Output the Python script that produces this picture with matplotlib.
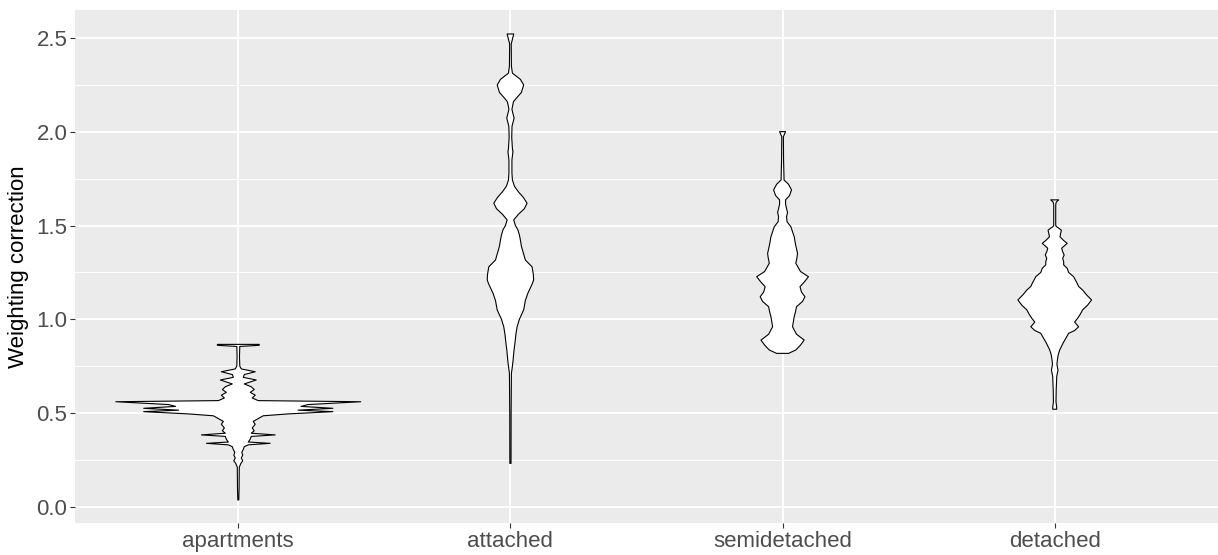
import matplotlib
matplotlib.use("Agg")
import matplotlib.pyplot as plt
import numpy as np

plt.rcParams['font.family'] = ['Liberation Sans', 'DejaVu Sans']

categories = ["apartments", "attached", "semidetached", "detached"]
y_ticks = [0.0, 0.5, 1.0, 1.5, 2.0, 2.5]
y_tick_labels = ["0.0", "0.5", "1.0", "1.5", "2.0", "2.5"]
y_label = "Weighting correction"

# violin profiles: value, relative density width
apartments_y = [0.036, 0.10, 0.21, 0.23, 0.245, 0.26, 0.275, 0.29, 0.305, 0.32, 0.330, 0.338, 0.345,
                0.36, 0.375, 0.383, 0.392, 0.405, 0.42, 0.44, 0.455, 0.47, 0.485, 0.495, 0.507, 0.515,
                0.525, 0.535, 0.545, 0.560, 0.566, 0.58, 0.595, 0.61, 0.625, 0.64, 0.655, 0.676, 0.69,
                0.705, 0.72, 0.735, 0.75, 0.80, 0.855, 0.861, 0.866]
apartments_d = [0.5, 0.8, 1.0, 2.5, 4.5, 3.0, 4.5, 3.5, 5, 6, 10, 32, 10,
                12, 13, 37, 13, 16, 14, 17, 15, 20, 25, 50, 95, 60,
                95, 63, 70, 123, 20, 14, 17, 12, 16, 13, 6, 18, 5,
                6, 17, 3, 1.5, 1.2, 1.5, 21, 21]

attached_y = [0.231, 0.50, 0.712, 0.75, 0.783, 0.83, 0.872, 0.92, 0.96, 1.00, 1.05, 1.10, 1.139, 1.19,
              1.21, 1.24, 1.28, 1.316, 1.353, 1.39, 1.423, 1.45, 1.477, 1.50, 1.530, 1.56, 1.59, 1.619,
              1.65, 1.68, 1.71, 1.743, 1.78, 1.85, 1.88, 1.894, 1.91, 1.97, 2.03, 2.073, 2.12, 2.16,
              2.18, 2.21, 2.25, 2.28, 2.313, 2.35, 2.47, 2.473, 2.522]
attached_d = [0.6, 0.7, 1.0, 2, 2.7, 3.5, 4.5, 5.5, 6.7, 9, 13.3, 15, 17.5, 22,
              23.3, 23, 21.7, 15, 13, 11, 10, 9, 7.5, 5, 3.3, 8, 14, 16.7,
              13, 8, 4, 2, 1.5, 1.5, 2.2, 2.5, 2, 1.3, 1.6, 3.7, 1.5, 3,
              6, 11, 13.3, 10, 2, 1, 0.8, 1, 3.3]

semidetached_y = [0.818, 0.836, 0.862, 0.889, 0.92, 0.96, 1.014, 1.04, 1.067, 1.095, 1.12, 1.145, 1.174,
                  1.20, 1.227, 1.255, 1.299, 1.33, 1.352, 1.40, 1.44, 1.494, 1.52, 1.548, 1.57, 1.59,
                  1.615, 1.637, 1.66, 1.69, 1.72, 1.743, 1.85, 1.974, 2.001]
semidetached_d = [6, 13.3, 18, 21.7, 14, 10, 11.7, 13, 14, 20, 22.5, 19, 17.5,
                  22, 26, 18, 13.3, 14.5, 15, 13, 11.7, 8.3, 4.5, 4, 5, 4,
                  3, 3, 7, 9, 6, 1.5, 1, 0.8, 3]

detached_y = [0.520, 0.53, 0.56, 0.623, 0.66, 0.694, 0.729, 0.76, 0.783, 0.81, 0.836, 0.872, 0.925,
              0.94, 0.96, 0.985, 1.005, 1.03, 1.05, 1.075, 1.103, 1.13, 1.156, 1.175, 1.192, 1.227,
              1.25, 1.272, 1.29, 1.307, 1.325, 1.343, 1.36, 1.379, 1.405, 1.42, 1.44, 1.46, 1.475,
              1.486, 1.495, 1.503, 1.61, 1.625, 1.637]
detached_d = [2, 2, 1.3, 1.5, 1.8, 2, 3.3, 2.2, 2.7, 3.5, 5, 8.3, 14,
              20, 24, 20, 23, 26, 28, 33, 37, 32, 28, 24, 22.5, 19,
              14, 12.5, 9, 9, 8, 9.5, 8, 7, 12.5, 9, 5.3, 6, 6.7,
              4, 1.5, 1, 1, 1.5, 4]

profiles = [(apartments_y, apartments_d), (attached_y, attached_d),
            (semidetached_y, semidetached_d), (detached_y, detached_d)]

W, H = 1218, 555
fig = plt.figure(figsize=(W / 100, H / 100), dpi=100)
ax = fig.add_axes([75 / W, 32 / H, (1218 - 75) / W, (523 - 10) / H])
ax.set_facecolor("#EBEBEB")
for s in ax.spines.values():
    s.set_visible(False)

ax.set_xlim(0.4, 4.6)
ax.set_ylim(-0.087, 2.650)

# grid
for v in [0.25, 0.75, 1.25, 1.75, 2.25]:
    ax.axhline(v, color="white", lw=0.7, zorder=0)
for v in y_ticks:
    ax.axhline(v, color="white", lw=1.4, zorder=0)
for i in range(len(categories)):
    ax.axvline(i + 1, color="white", lw=1.4, zorder=0)

dmax = max(max(d) for _, d in profiles)
for i, (yy, dd) in enumerate(profiles):
    yy = np.asarray(yy, float)
    hw = np.asarray(dd, float) / dmax * 0.45
    xc = i + 1
    xs = np.concatenate([xc + hw, (xc - hw)[::-1]])
    ys = np.concatenate([yy, yy[::-1]])
    ax.fill(xs, ys, facecolor="white", edgecolor="black", lw=0.8, zorder=2,
            joinstyle="round")

ax.set_xticks(range(1, len(categories) + 1))
ax.set_xticklabels(categories)
ax.set_yticks(y_ticks)
ax.set_yticklabels(y_tick_labels)
ax.tick_params(axis="both", colors="#333333", length=3.5, width=0.8,
               labelsize=16, labelcolor="#4D4D4D")
ax.tick_params(axis="x", pad=2)
ax.tick_params(axis="y", pad=2)
ax.set_ylabel(y_label, fontsize=16, color="black", labelpad=5)

fig.savefig("out.png", dpi=100)
